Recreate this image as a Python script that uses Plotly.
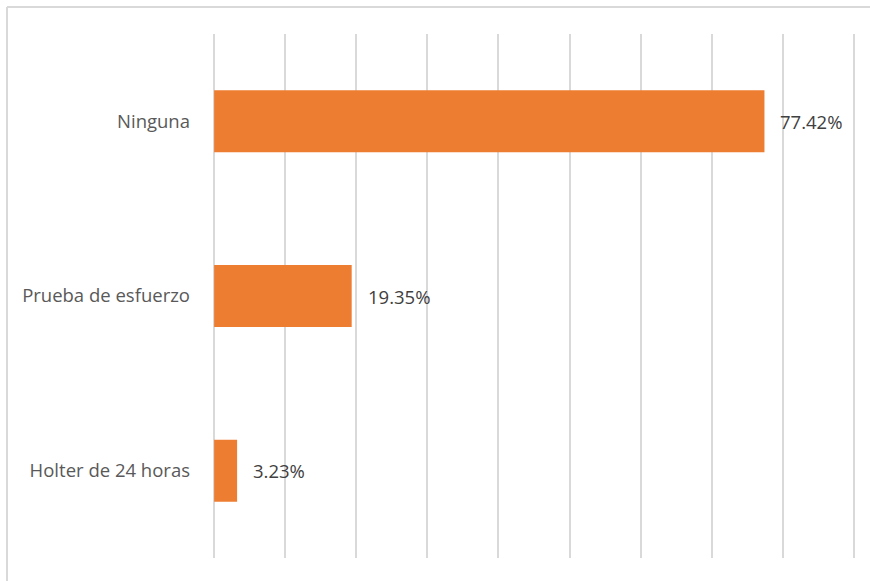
import plotly.graph_objects as go

categories = ["Holter de 24 horas", "Prueba de esfuerzo", "Ninguna"]
values = [0.0323, 0.1935, 0.7742]
labels = ["3.23%", "19.35%", "77.42%"]

L, R, T, B = 212, 14, 34, 23
PW, PH = 870 - L - R, 581 - T - B

def px(x):
    return (x - L) / PW

def py(y):
    return (581 - B - y) / PH

fig = go.Figure()
fig.add_trace(go.Bar(
    y=categories, x=values, orientation="h",
    marker=dict(color="#ED7D31", line=dict(width=0)),
    hoverinfo="skip",
))
for c, v, t in zip(categories, values, labels):
    fig.add_annotation(x=v, y=c, text=t, showarrow=False, xanchor="left",
                       xshift=14, font=dict(family="Open Sans", size=18.5, color="#404040"))

border = dict(color="#D9D9D9", width=2)
fig.add_shape(type="line", xref="paper", yref="paper",
              x0=px(7), x1=px(7), y0=py(7), y1=py(581), line=border)
fig.add_shape(type="line", xref="paper", yref="paper",
              x0=px(7), x1=px(870), y0=py(7), y1=py(7), line=border)

fig.update_layout(
    width=870, height=581,
    margin=dict(l=L, r=R, t=T, b=B),
    paper_bgcolor="white", plot_bgcolor="white",
    bargap=0.645,
    showlegend=False,
    xaxis=dict(range=[-0.003, 0.903], tickvals=[i / 10 for i in range(10)],
               showgrid=True, gridcolor="#D9D9D9",
               gridwidth=1.5, showticklabels=False, zeroline=False, showline=False,
               fixedrange=True),
    yaxis=dict(showgrid=False, zeroline=False, showline=False, ticks="",
               ticklabelstandoff=21,
               tickfont=dict(family="Open Sans", size=18.5, color="#595959")),
)
fig.write_html("out.html")
